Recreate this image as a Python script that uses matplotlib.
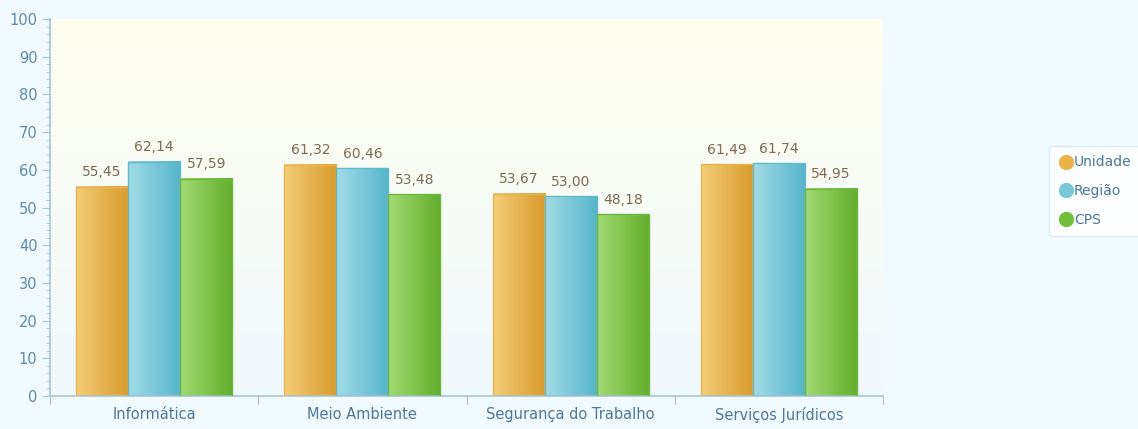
import numpy as np
import matplotlib
matplotlib.use("Agg")
import matplotlib.pyplot as plt
from matplotlib.colors import LinearSegmentedColormap
from matplotlib.lines import Line2D
from matplotlib.ticker import MultipleLocator, FixedLocator

categories = ["Informática", "Meio Ambiente", "Segurança do Trabalho", "Serviços Jurídicos"]
series_names = ["Unidade", "Região", "CPS"]
unidade = [55.45, 61.32, 53.67, 61.49]
regiao = [62.14, 60.46, 53.00, 61.74]
cps = [57.59, 53.48, 48.18, 54.95]
values = [unidade, regiao, cps]

grad_colors = [("#f3cd78", "#d99c2e"), ("#a2dce6", "#56b5ca"), ("#a4da74", "#63ad2c")]
edge_colors = ["#e6b450", "#62b8cc", "#6cb83e"]
legend_colors = ["#e9b44a", "#78c8d8", "#72bf3e"]

bg = "#f0faff"
fig = plt.figure(figsize=(11.38, 4.29), dpi=100, facecolor=bg)
ax = fig.add_axes([50/1138, 33/429, 833/1138, 377/429])
ax.set_facecolor("none")

# background gradient of plot area
bgcmap = LinearSegmentedColormap.from_list("bg", ["#f1f9fe", "#fffff0"])
ax.imshow(np.linspace(0, 1, 256).reshape(-1, 1), cmap=bgcmap, aspect="auto",
          extent=[-0.5, len(categories) - 0.5, 0, 100], origin="lower", zorder=0)

x = np.arange(len(categories))
width = 0.25
grad = np.linspace(0, 1, 64).reshape(1, -1)
for i, (vals, (c1, c2), ec) in enumerate(zip(values, grad_colors, edge_colors)):
    bars = ax.bar(x + (i - 1) * width, vals, width, color="none", edgecolor=ec,
                  linewidth=1.0, zorder=3)
    cmap = LinearSegmentedColormap.from_list(f"g{i}", [c1, c2])
    for b, v in zip(bars, vals):
        x0, w, h = b.get_x(), b.get_width(), b.get_height()
        ax.imshow(grad, cmap=cmap, aspect="auto",
                  extent=[x0, x0 + w, 0, h], zorder=2)
        ax.text(x0 + w / 2, h + 2.0, f"{v:.2f}".replace(".", ","), ha="center",
                va="bottom", fontsize=10, color="#7d6c52", zorder=4)

ax.set_xlim(-0.5, len(categories) - 0.5)
ax.set_ylim(0, 100)
ax.yaxis.set_major_locator(MultipleLocator(10))
ax.yaxis.set_minor_locator(MultipleLocator(2))
ax.xaxis.set_major_locator(FixedLocator(np.arange(-0.5, len(categories), 1.0)))
ax.set_xticklabels([])
ax.set_xticks(x, minor=True)
ax.set_xticklabels(categories, minor=True)
ax.tick_params(axis="x", which="minor", length=0, pad=8, labelsize=10.5, labelcolor="#4d7898")
ax.tick_params(axis="x", which="major", length=6, color="#a5c4d8")
ax.tick_params(axis="y", which="major", length=6, color="#a5c4d8", labelsize=10.5,
               labelcolor="#5e8aab", pad=3)
ax.tick_params(axis="y", which="minor", length=3, color="#a5c4d8")
for s in ["top", "right"]:
    ax.spines[s].set_visible(False)
for s in ["left", "bottom"]:
    ax.spines[s].set_color("#a5c4d8")
    ax.spines[s].set_linewidth(1.2)

handles = [Line2D([0], [0], marker="o", linestyle="none", markersize=10,
                  markerfacecolor=c, markeredgecolor=c) for c in legend_colors]
leg = fig.legend(handles, series_names, loc="center left",
                 bbox_to_anchor=(1049/1138, 1 - 191/429), frameon=True,
                 fontsize=10, labelcolor="#4d7898", handletextpad=0.1,
                 handlelength=1.0, labelspacing=1.05, borderpad=0.7,
                 borderaxespad=0.0,
                 fancybox=True, facecolor="#ffffff", edgecolor="#d8eaf4")
leg.get_frame().set_linewidth(1.0)

fig.savefig("out.png", dpi=100, facecolor=bg)
